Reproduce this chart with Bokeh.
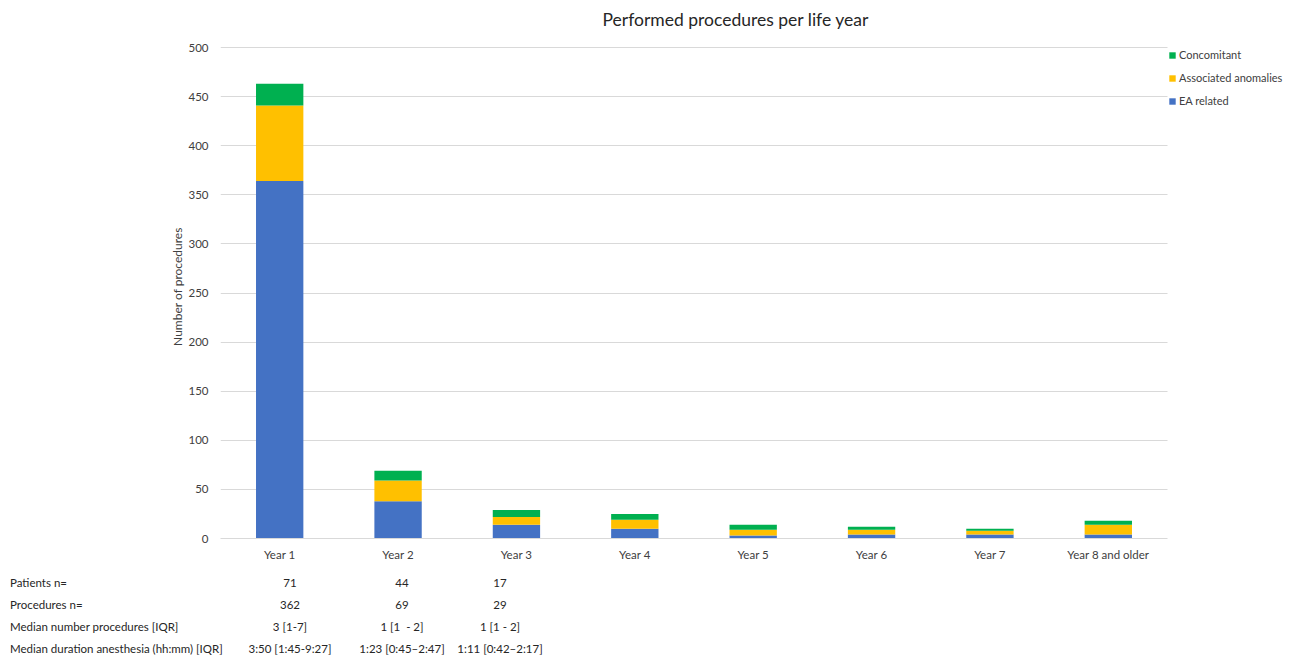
from bokeh.plotting import figure
from bokeh.models import Range1d, FixedTicker, Legend, LegendItem, ColumnDataSource, Div
from bokeh.layouts import column
from bokeh.embed import file_html
from bokeh.resources import INLINE

# ---- data ----
years = ["Year 1", "Year 2", "Year 3", "Year 4", "Year 5", "Year 6", "Year 7", "Year 8 and older"]
ea_related = [364, 38, 14, 10, 3, 4, 4, 4]
associated = [77, 21, 8, 9, 6, 5, 4, 10]
concomitant = [22, 10, 7, 6, 5, 3, 2, 4]
y_ticks = list(range(0, 501, 50))

table_rows = ["Patients n=", "Procedures n=", "Median number procedures [IQR]",
              "Median duration anesthesia (hh:mm) [IQR]"]
table_values = [
    ["71", "44", "17"],
    ["362", "69", "29"],
    ["3 [1-7]", "1 [1 &nbsp;- 2]", "1 [1 - 2]"],
    ["3:50 [1:45-9:27]", "1:23 [0:45\u20132:47]", "1:11 [0:42\u20132:17]"],
]

BLUE = "#4472C4"
YELLOW = "#FFC000"
GREEN = "#00B050"
FONT = "Lato"
TXT = "#404040"

W = 1292
LEFT = 220          # frame left (px)
PLOT_RIGHT = 1167   # where the category area ends (px); legend lives to the right of it
FRAME_TOP = 34      # frame top (px); the 500 gridline sits a little lower
GRID_TOP = 47       # pixel of the top (500) gridline
FRAME_BOTTOM = 538
MAIN_H, TABLE_H = 570, 89

n = len(years)
xs = [i + 0.5 for i in range(n)]                  # category centres
x_end = n * (W - LEFT) / (PLOT_RIGHT - LEFT)      # extra room on the right for the legend
y_max = y_ticks[-1]
px_per_unit = (FRAME_BOTTOM - GRID_TOP) / y_max
y_end = y_max + (GRID_TOP - FRAME_TOP) / px_per_unit

src = ColumnDataSource(dict(x=xs, years=years, ea=ea_related, assoc=associated, conc=concomitant))

p = figure(width=W, height=MAIN_H, x_range=Range1d(0, x_end), y_range=Range1d(0, y_end),
           output_backend="svg", toolbar_location=None,
           title="Performed procedures per life year",
           min_border_left=LEFT, min_border_right=0, min_border_top=FRAME_TOP,
           min_border_bottom=MAIN_H - FRAME_BOTTOM)

r = p.vbar_stack(["ea", "assoc", "conc"], x="x", width=0.4, source=src,
                 color=[BLUE, YELLOW, GREEN], line_color=None)

p.title.align = "left"
p.title.offset = 382
p.title.text_font = FONT
p.title.text_font_size = "17.5px"
p.title.text_font_style = "normal"
p.title.text_color = "#262626"
p.title.standoff = 10

p.outline_line_color = None
p.xgrid.grid_line_color = None
p.ygrid.grid_line_color = "#d9d9d9"
p.ygrid.grid_line_width = 1
try:
    p.ygrid.cross_bounds = (0, n)
except Exception:
    pass

p.yaxis.ticker = FixedTicker(ticks=y_ticks)
p.yaxis.axis_line_color = None
p.yaxis.major_tick_line_color = None
p.yaxis.major_tick_out = 0
p.yaxis.minor_tick_line_color = None
p.yaxis.major_label_text_font = FONT
p.yaxis.major_label_text_font_size = "11.5px"
p.yaxis.major_label_text_color = TXT
p.yaxis.major_label_standoff = 12
p.yaxis.axis_label = "Number of procedures"
p.yaxis.axis_label_text_font = FONT
p.yaxis.axis_label_text_font_size = "12px"
p.yaxis.axis_label_text_font_style = "normal"
p.yaxis.axis_label_text_color = TXT
p.yaxis.axis_label_standoff = 0

p.xaxis.ticker = FixedTicker(ticks=xs)
p.xaxis.major_label_overrides = dict(zip(xs, years))
p.xaxis.bounds = (0, n)
p.xaxis.axis_line_color = "#d9d9d9"
p.xaxis.major_tick_line_color = None
p.xaxis.major_tick_out = 0
p.xaxis.minor_tick_line_color = None
p.xaxis.major_label_text_font = FONT
p.xaxis.major_label_text_font_size = "11.5px"
p.xaxis.major_label_text_color = TXT
p.xaxis.major_label_standoff = 9

legend = Legend(items=[LegendItem(label="Concomitant", renderers=[r[2]]),
                       LegendItem(label="Associated anomalies", renderers=[r[1]]),
                       LegendItem(label="EA related", renderers=[r[0]])],
                location=(PLOT_RIGHT + 1 - LEFT, 431), orientation="vertical",
                glyph_width=8, glyph_height=8, label_height=12, spacing=10,
                padding=0, margin=0, border_line_color=None, background_fill_alpha=0,
                label_text_font=FONT, label_text_font_size="11px", label_text_color=TXT,
                label_standoff=3)
p.add_layout(legend, "center")

# ---- table below the chart ----
row_top = [13, 35, 57, 79]          # row centres (px from top of table block)
col_centres = [290, 402, 500]       # column centres (px from left)
label_left = 10

spans = []
for label, yc, vals in zip(table_rows, row_top, table_values):
    spans.append(f'<span style="position:absolute;left:{label_left}px;top:{yc - 8}px;'
                 f'line-height:16px;white-space:nowrap;">{label}</span>')
    for xc, v in zip(col_centres, vals):
        spans.append(f'<span style="position:absolute;left:{xc - 100}px;top:{yc - 8}px;width:200px;'
                     f'text-align:center;line-height:16px;white-space:nowrap;">{v}</span>')
html = (f'<div style="position:relative;width:{W}px;height:{TABLE_H}px;font-family:{FONT};'
        f'font-size:11.5px;color:#262626;">' + "".join(spans) + '</div>')
table = Div(text=html, width=W, height=TABLE_H, margin=0)

open("out.html", "w").write(file_html(column(p, table, spacing=0), INLINE))
